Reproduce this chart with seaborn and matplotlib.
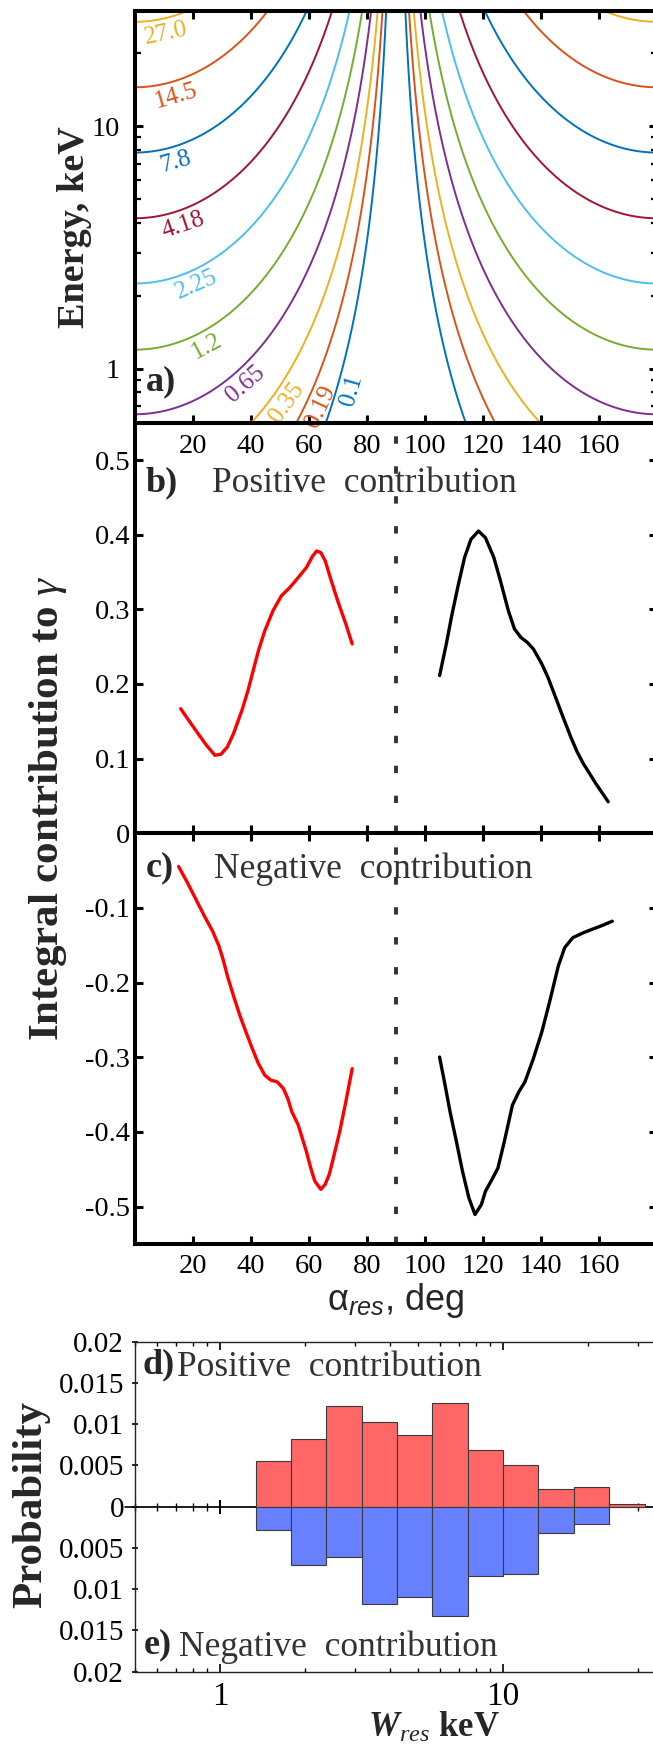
import numpy as np
import pandas as pd
import matplotlib
matplotlib.use("Agg")
import matplotlib.pyplot as plt
import seaborn as sns
from matplotlib.ticker import FixedLocator, FixedFormatter, LogLocator, NullFormatter

# ---------------- data ----------------
contour_levels = [0.1, 0.19, 0.35, 0.65, 1.2, 2.25, 4.18, 7.8, 14.5, 27.0]
contour_texts = ["0.1", "0.19", "0.35", "0.65", "1.2", "2.25", "4.18", "7.8", "14.5", "27.0"]
contour_colors = ["#0072BD", "#D95319", "#EDB120", "#7E2F8E", "#77AC30",
                  "#4DBEEE", "#A2142F", "#0072BD", "#D95319", "#EDB120"]

b_red_alpha = [15.9, 19.1, 21.9, 24.8, 27.7, 29.8, 32.0, 34.1, 37.0, 39.1, 40.6, 42.7, 44.9,
               47.7, 50.6, 53.5, 56.4, 59.2, 61.4, 62.8, 64.2, 65.7, 67.8, 70.0, 72.8, 75.0]
b_red_val = [0.1669, 0.149, 0.1335, 0.1179, 0.1045, 0.1059, 0.1157, 0.1335, 0.1646, 0.1913,
             0.2136, 0.2447, 0.2714, 0.2981, 0.3181, 0.3292, 0.3426, 0.3559, 0.3716, 0.3782,
             0.376, 0.3649, 0.3382, 0.3115, 0.2804, 0.2537]
b_black_alpha = [105.1, 107.3, 109.4, 111.6, 113.7, 115.9, 118.5, 120.9, 123.8, 125.9, 128.8,
                 130.9, 133.1, 135.3, 137.4, 140.3, 142.4, 144.6, 147.4, 150.3, 152.5, 154.6,
                 158.9, 163.2]
b_black_val = [0.2113, 0.2514, 0.2937, 0.3338, 0.3693, 0.3938, 0.4049, 0.3959, 0.3693, 0.3405,
               0.2981, 0.2737, 0.2625, 0.2558, 0.247, 0.227, 0.2092, 0.1869, 0.158, 0.129,
               0.109, 0.0935, 0.0668, 0.0422]

c_red_alpha = [15.2, 18.3, 21.2, 24.1, 26.9, 29.1, 30.5, 32.0, 34.1, 36.3, 38.4, 40.6, 42.7,
               44.9, 47.0, 49.2, 51.3, 52.8, 54.2, 56.4, 57.8, 59.2, 60.7, 62.1, 64.2, 65.7,
               67.1, 68.5, 70.7, 72.8, 75.0]
c_red_val = [-0.0445, -0.0666, -0.0888, -0.111, -0.131, -0.151, -0.1687, -0.191, -0.2175,
             -0.244, -0.266, -0.2885, -0.3085, -0.324, -0.3306, -0.333, -0.3418, -0.3551,
             -0.3728, -0.3906, -0.4083, -0.426, -0.448, -0.4657, -0.4768, -0.4701, -0.4568,
             -0.435, -0.3995, -0.3595, -0.3152]
c_black_alpha = [105.1, 107.0, 108.7, 110.9, 113.0, 115.2, 117.3, 119.5, 120.9, 123.1, 125.2,
                 127.4, 130.2, 132.4, 134.5, 137.4, 140.3, 143.1, 146.0, 148.2, 151.0, 154.6,
                 157.5, 161.1, 164.6]
c_black_val = [-0.2996, -0.3374, -0.3728, -0.4128, -0.4527, -0.4883, -0.5105, -0.4972, -0.4794,
               -0.4639, -0.4483, -0.4128, -0.364, -0.3462, -0.3329, -0.3019, -0.2663, -0.2242,
               -0.1776, -0.1531, -0.1398, -0.1332, -0.1288, -0.1235, -0.1177]

hist_edges = [1.334, 1.778, 2.371, 3.162, 4.217, 5.623, 7.499, 10.0, 13.34, 17.78, 23.71, 31.62]
hist_pos = [0.00557, 0.00817, 0.01215, 0.01024, 0.00874, 0.01252, 0.00691, 0.0050, 0.0022, 0.0024, 0.00037]
hist_neg = [0.00285, 0.00711, 0.00614, 0.01175, 0.0109, 0.01329, 0.00841, 0.00821, 0.00321, 0.00207, 0.0]

alpha_ticks = [20, 40, 60, 80, 100, 120, 140, 160]
alpha_tick_labels = ["20", "40", "60", "80", "100", "120", "140", "160"]
b_ticks = [0, 0.1, 0.2, 0.3, 0.4, 0.5]
b_tick_labels = ["0", "0.1", "0.2", "0.3", "0.4", "0.5"]
c_ticks = [-0.5, -0.4, -0.3, -0.2, -0.1]
c_tick_labels = ["-0.5", "-0.4", "-0.3", "-0.2", "-0.1"]
prob_ticks = [-0.02, -0.015, -0.01, -0.005, 0, 0.005, 0.01, 0.015, 0.02]
prob_tick_labels = ["0.02", "0.015", "0.01", "0.005", "0", "0.005", "0.01", "0.015", "0.02"]
w_ticks = [1, 10]
w_tick_labels = ["1", "10"]

# ---------------- style ----------------
sns.set_theme(style="ticks")
plt.rcParams["font.family"] = ["Liberation Serif", "DejaVu Serif"]
plt.rcParams["mathtext.fontset"] = "custom"
plt.rcParams["mathtext.rm"] = "Liberation Serif"
plt.rcParams["mathtext.it"] = "Liberation Serif:italic"
plt.rcParams["mathtext.bf"] = "Liberation Serif:bold"
plt.rcParams["mathtext.bfit"] = "Liberation Serif:bold:italic"
plt.rcParams["mathtext.cal"] = "Liberation Sans:italic"
plt.rcParams["axes.edgecolor"] = "black"
plt.rcParams["xtick.color"] = "black"
plt.rcParams["ytick.color"] = "black"

W, H = 653, 1748
fig = plt.figure(figsize=(W / 100, H / 100), dpi=100)


def px_axes(l, t, r, b):
    return fig.add_axes([l / W, 1 - b / H, (r - l) / W, (b - t) / H])


def ftext(x, y, s, **kw):
    return fig.text(x / W, 1 - y / H, s, **kw)


ax_b = px_axes(134.5, 422.7, 657, 833.3)
ax_c = px_axes(134.5, 833.3, 657, 1244)
ax_a = px_axes(134.5, 10.7, 657, 422.7)
ax_d = px_axes(135, 1341.7, 657, 1671.7)
ax_a.patch.set_alpha(0)

THICK = 2.9
for ax in (ax_a, ax_b, ax_c):
    for sp in ax.spines.values():
        sp.set_linewidth(THICK)
        sp.set_color("black")
        sp.set_zorder(5)

TICKFS = 20.5

# ---------------- panel a ----------------
alpha_grid = np.linspace(0, 180, 1441)
energy_grid = np.logspace(np.log10(0.5), np.log10(40), 900)
AA, EE = np.meshgrid(alpha_grid, energy_grid)
ZZ = EE * np.cos(np.deg2rad(AA)) ** 2
ax_a.set_yscale("log")
ax_a.set_xlim(0, 180)
ax_a.set_ylim(0.6, 30)
cs = ax_a.contour(AA, EE, ZZ, levels=contour_levels, colors=contour_colors, linewidths=1.4)

label_foot_alpha = [69.9, 59.6, 48.2, 34.8, 22.6, 19.4, 15.0, 12.7, 12.9, 9.6]
for segs, txt, col, fa in zip(cs.allsegs, contour_texts, contour_colors, label_foot_alpha):
    pts = np.concatenate([s for s in segs if len(s)], axis=0)
    pts = pts[pts[:, 0] < 90]
    pts = pts[np.argsort(pts[:, 0])]
    disp = ax_a.transData.transform(pts)
    i = int(np.argmin(np.abs(pts[:, 0] - fa)))
    i0, i1 = max(i - 3, 0), min(i + 3, len(pts) - 1)
    d = disp[i1] - disp[i0]
    th = np.arctan2(d[1], d[0])
    off = 15 * np.array([np.sin(th), -np.cos(th)])
    ax_a.annotate(txt, xy=pts[i], xytext=(off[0] * 0.72, off[1] * 0.72),
                  textcoords="offset points", rotation=np.degrees(th),
                  rotation_mode="anchor", ha="center", va="center",
                  color=col, fontsize=18)

ax_a.xaxis.set_major_locator(FixedLocator(alpha_ticks))
ax_a.xaxis.set_major_formatter(FixedFormatter(alpha_tick_labels))
ax_a.yaxis.set_major_locator(FixedLocator(w_ticks))
ax_a.yaxis.set_major_formatter(FixedFormatter(w_tick_labels))
ax_a.yaxis.set_minor_locator(LogLocator(base=10, subs=np.arange(2, 10)))
ax_a.yaxis.set_minor_formatter(NullFormatter())
ax_a.tick_params(which="both", direction="in", top=True, right=True, labelsize=TICKFS)
ax_a.tick_params(which="major", length=6, width=2.2)
ax_a.tick_params(which="minor", length=4, width=1.6)
ax_a.tick_params(axis="x", pad=8)
ax_a.tick_params(axis="y", pad=10.5)

# ---------------- panels b, c ----------------
df_b_red = pd.DataFrame({"alpha": b_red_alpha, "val": b_red_val})
df_b_blk = pd.DataFrame({"alpha": b_black_alpha, "val": b_black_val})
df_c_red = pd.DataFrame({"alpha": c_red_alpha, "val": c_red_val})
df_c_blk = pd.DataFrame({"alpha": c_black_alpha, "val": c_black_val})

for ax, dr, dk in ((ax_b, df_b_red, df_b_blk), (ax_c, df_c_red, df_c_blk)):
    sns.lineplot(data=dr, x="alpha", y="val", ax=ax, color="#FF0000", lw=2.4,
                 sort=False, estimator=None)
    sns.lineplot(data=dk, x="alpha", y="val", ax=ax, color="black", lw=2.4,
                 sort=False, estimator=None)
    ax.axvline(90, color="#333333", lw=2.8, dashes=(1.9, 5.8))
    ax.set_xlim(0, 180)
    ax.set_xlabel("")
    ax.set_ylabel("")
    ax.xaxis.set_major_locator(FixedLocator(alpha_ticks))
    ax.tick_params(which="both", direction="in", right=True, labelsize=TICKFS)
    ax.tick_params(which="major", length=6, width=2.2)

ax_b.set_ylim(0, 0.55)
ax_b.yaxis.set_major_locator(FixedLocator(b_ticks))
ax_b.yaxis.set_major_formatter(FixedFormatter(b_tick_labels))
ax_b.tick_params(axis="x", labelbottom=False, top=False, bottom=True)
ax_b.tick_params(axis="y", pad=3)

ax_c.set_ylim(-0.55, 0)
ax_c.yaxis.set_major_locator(FixedLocator(c_ticks))
ax_c.yaxis.set_major_formatter(FixedFormatter(c_tick_labels))
ax_c.xaxis.set_major_formatter(FixedFormatter(alpha_tick_labels))
ax_c.tick_params(axis="x", top=True, bottom=True, pad=7)
ax_c.tick_params(axis="y", pad=3)

# ---------------- panel d/e ----------------
ax_d.set_xscale("log")
centers = np.sqrt(np.array(hist_edges[:-1]) * np.array(hist_edges[1:]))
log_edges = [float(v) for v in np.log10(hist_edges)]
df_pos = pd.DataFrame({"w": centers, "p": hist_pos})
df_neg = pd.DataFrame({"w": centers, "p": -np.array(hist_neg)})
sns.histplot(data=df_pos, x="w", weights="p", bins=log_edges, ax=ax_d, stat="count",
             color="#FF6666", alpha=1.0, edgecolor="#3a3a3a", linewidth=0.8)
sns.histplot(data=df_neg, x="w", weights="p", bins=log_edges, ax=ax_d, stat="count",
             color="#6680FF", alpha=1.0, edgecolor="#3a3a3a", linewidth=0.8)
ax_d.set_xlim(0.5, 35)
ax_d.set_ylim(-0.02, 0.02)
ax_d.set_xlabel("")
ax_d.set_ylabel("")
for sp in ax_d.spines.values():
    sp.set_linewidth(1.0)
    sp.set_color("#222222")
ax_d.yaxis.set_major_locator(FixedLocator(prob_ticks))
ax_d.yaxis.set_major_formatter(FixedFormatter(prob_tick_labels))
ax_d.xaxis.set_major_locator(FixedLocator(w_ticks))
ax_d.xaxis.set_major_formatter(FixedFormatter(w_tick_labels))
ax_d.xaxis.set_minor_locator(LogLocator(base=10, subs=np.arange(2, 10)))
ax_d.xaxis.set_minor_formatter(NullFormatter())
ax_d.tick_params(axis="x", which="both", direction="in", top=True, bottom=True)
ax_d.tick_params(axis="x", which="major", length=6, width=1.2, labelsize=24, pad=7)
ax_d.tick_params(axis="x", which="minor", length=3, width=1.0)
ax_d.tick_params(axis="y", which="major", direction="inout", length=4, width=1.2,
                 right=True, labelsize=21, pad=6)

zero_ax = ax_d.secondary_xaxis(0.5)
zero_ax.spines["bottom"].set_linewidth(1.6)
zero_ax.spines["bottom"].set_color("black")
zero_ax.xaxis.set_major_locator(FixedLocator(w_ticks))
zero_ax.xaxis.set_major_formatter(NullFormatter())
zero_ax.xaxis.set_minor_locator(LogLocator(base=10, subs=np.arange(2, 10)))
zero_ax.xaxis.set_minor_formatter(NullFormatter())
zero_ax.tick_params(axis="x", which="both", direction="inout", labelbottom=False, labeltop=False)
zero_ax.tick_params(axis="x", which="major", length=10, width=1.4)
zero_ax.tick_params(axis="x", which="minor", length=6, width=1.0)
ax_d.axhline(0, xmin=-0.02, xmax=0.0, color="black", lw=1.2, clip_on=False)

# ---------------- texts ----------------
LBL = 26
DESC = 25.5
GRAY = "#333333"
ftext(146, 390, "a)", fontsize=LBL, fontweight="bold", va="baseline")
ftext(146, 491, "b)", fontsize=LBL, fontweight="bold", va="baseline")
ftext(212, 492, "Positive  contribution", fontsize=DESC, color=GRAY, va="baseline")
ftext(146, 876, "c)", fontsize=LBL, fontweight="bold", va="baseline")
ftext(214, 878, "Negative  contribution", fontsize=DESC, color=GRAY, va="baseline")
ftext(143, 1373, "d)", fontsize=LBL, fontweight="bold", va="baseline")
ftext(177, 1376, "Positive  contribution", fontsize=DESC, color=GRAY, va="baseline")
ftext(144, 1653, "e)", fontsize=LBL, fontweight="bold", va="baseline")
ftext(179, 1656, "Negative  contribution", fontsize=DESC, color=GRAY, va="baseline")

ftext(75, 227, "Energy, keV", fontsize=27.5, fontweight="bold", rotation=90,
      ha="center", va="center")
ftext(48, 808, r"Integral contribution to $\gamma$", fontsize=31, fontweight="bold",
      rotation=90, ha="center", va="center")
ftext(31, 1505, "Probability", fontsize=31, fontweight="bold", rotation=90,
      ha="center", va="center")
ftext(396, 1300, r"α$_{\mathcal{res}}$, deg", fontsize=26, family="Liberation Sans",
      ha="center", va="center")
ftext(434, 1728, r"$\mathbfit{W}_{\mathit{res}}$ keV", fontsize=25, fontweight="bold",
      ha="center", va="center")

fig.savefig("out.png", dpi=100)
